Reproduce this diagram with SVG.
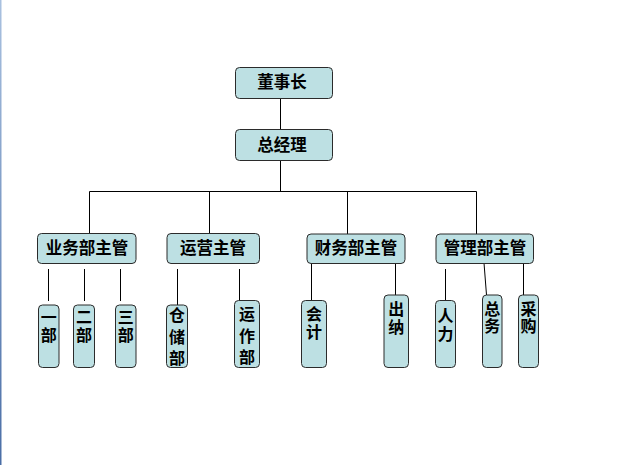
<svg xmlns="http://www.w3.org/2000/svg" width="619" height="465" viewBox="0 0 619 465">
<defs>
<linearGradient id="edge" x1="0" y1="0" x2="0" y2="1">
<stop offset="0" stop-color="#a9c1e0"/>
<stop offset="1" stop-color="#4a6ea6"/>
</linearGradient>
</defs>
<style>
.box{fill:#bde0e3;stroke:#2b2b2b;stroke-width:1}
.t{font-family:"Noto Sans CJK SC","Noto Sans CJK JP",sans-serif;font-size:16.5px;font-weight:bold;fill:#000;text-anchor:middle}
.v{font-family:"Noto Sans CJK SC","Noto Sans CJK JP",sans-serif;font-size:16px;font-weight:bold;fill:#000;text-anchor:start;writing-mode:vertical-rl}
.c{stroke:#000;stroke-width:1;fill:none}
</style>
<rect x="0" y="0" width="1.5" height="465" fill="url(#edge)"/>
<g id="connectors">
<line class="c" x1="280.5" y1="98" x2="280.5" y2="129"/>
<line class="c" x1="280.5" y1="160" x2="280.5" y2="191.5"/>
<line class="c" x1="89.5" y1="191.5" x2="476.5" y2="191.5"/>
<line class="c" x1="89.5" y1="191.5" x2="89.5" y2="233"/>
<line class="c" x1="209.5" y1="191.5" x2="209.5" y2="233"/>
<line class="c" x1="347.5" y1="191.5" x2="347.5" y2="234"/>
<line class="c" x1="476.5" y1="191.5" x2="476.5" y2="234"/>
<line class="c" x1="48.5" y1="269" x2="48.5" y2="301"/>
<line class="c" x1="84.5" y1="269" x2="84.5" y2="301"/>
<line class="c" x1="120.5" y1="269" x2="120.5" y2="301"/>
<line class="c" x1="177.5" y1="269" x2="177.5" y2="305"/>
<line class="c" x1="239.5" y1="269" x2="239.5" y2="301"/>
<line class="c" x1="311.5" y1="263" x2="311.5" y2="300.5"/>
<line class="c" x1="395.5" y1="263" x2="395.5" y2="295"/>
<line class="c" x1="445.5" y1="269" x2="445.5" y2="300.5"/>
<line class="c" x1="484" y1="263" x2="486.5" y2="295"/>
<line class="c" x1="523.5" y1="263" x2="523.5" y2="295"/>
</g>
<g id="n-chairman"><rect class="box" x="235.5" y="67.5" width="97" height="31" rx="4"/><text class="t" x="282" y="88">董事长</text></g>
<g id="n-gm"><rect class="box" x="235.5" y="129.5" width="97" height="31" rx="4"/><text class="t" x="282" y="150.5">总经理</text></g>
<g id="n-biz"><rect class="box" x="37.5" y="233.5" width="98.5" height="30" rx="4"/><text class="t" x="87" y="254">业务部主管</text></g>
<g id="n-ops"><rect class="box" x="167" y="233.5" width="92.5" height="30" rx="4"/><text class="t" x="213" y="254">运营主管</text></g>
<g id="n-fin"><rect class="box" x="307" y="234" width="98" height="29.5" rx="4"/><text class="t" x="356" y="254">财务部主管</text></g>
<g id="n-mgmt"><rect class="box" x="436" y="234" width="97.5" height="29.5" rx="4"/><text class="t" x="485" y="254">管理部主管</text></g>
<g id="n-d1"><rect class="box" x="38.5" y="305" width="20.5" height="62.5" rx="4"/><text class="v" x="48.8" y="309" letter-spacing="2">一部</text></g>
<g id="n-d2"><rect class="box" x="73.5" y="305" width="21" height="62.5" rx="4"/><text class="v" x="84" y="309" letter-spacing="2">二部</text></g>
<g id="n-d3"><rect class="box" x="115.5" y="305" width="20.5" height="62.5" rx="4"/><text class="v" x="125.8" y="309" letter-spacing="2">三部</text></g>
<g id="n-store"><rect class="box" x="166.5" y="305" width="21" height="62.5" rx="4"/><text class="v" x="177" y="307" letter-spacing="5.5">仓储部</text></g>
<g id="n-run"><rect class="box" x="234.5" y="300.5" width="25" height="67" rx="4"/><text class="v" x="247" y="306" letter-spacing="5.5">运作部</text></g>
<g id="n-acct"><rect class="box" x="301.5" y="300.5" width="25" height="67" rx="4"/><text class="v" x="314" y="306" letter-spacing="1.5">会计</text></g>
<g id="n-cash"><rect class="box" x="384" y="295" width="24.5" height="72.5" rx="4"/><text class="v" x="396.2" y="301" letter-spacing="2">出纳</text></g>
<g id="n-hr"><rect class="box" x="435.5" y="300.5" width="20" height="67" rx="4"/><text class="v" x="445.5" y="307" letter-spacing="2.5">人力</text></g>
<g id="n-gen"><rect class="box" x="482.5" y="295" width="19.5" height="72.5" rx="4"/><text class="v" x="492.3" y="300.5" letter-spacing="1">总务</text></g>
<g id="n-buy"><rect class="box" x="518.5" y="295" width="20" height="72.5" rx="4"/><text class="v" x="528.5" y="300.5" letter-spacing="1">采购</text></g>
</svg>
